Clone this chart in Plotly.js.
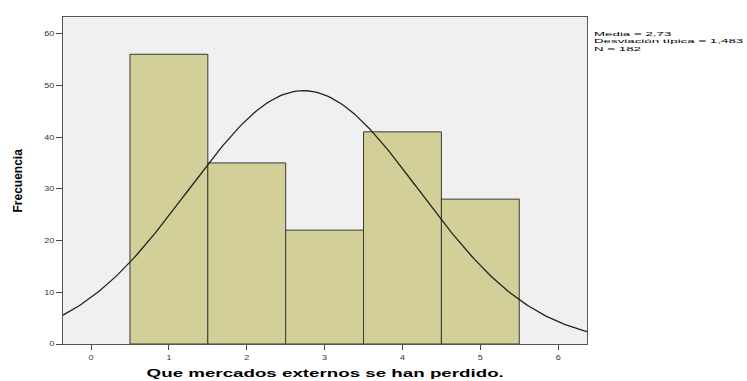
<!DOCTYPE html>
<html><head><meta charset="utf-8">
<script src="https://cdn.plot.ly/plotly-3.0.1.min.js"></script>
<style>body{margin:0;background:#fff}#c{width:747px;height:381px}</style>
</head><body><div id="c"></div>
<script>
const categories = [1, 2, 3, 4, 5];
const frequencies = [56, 35, 22, 41, 28];
const meanValue = 2.73;
const stdDev = 1.483;
const nCount = 182;
const xTicks = [0, 1, 2, 3, 4, 5, 6];
const yTicks = [0, 10, 20, 30, 40, 50, 60];
const statLines = ['Media = 2,73', 'Desviación típica = 1,483', 'N = 182'];

const xr = [-0.36, 6.37];
const cx = [], cy = [];
for (let i = 0; i <= 200; i++) {
  const x = xr[0] + (xr[1] - xr[0]) * i / 200;
  cx.push(x);
  cy.push(nCount / (stdDev * Math.sqrt(2 * Math.PI)) * Math.exp(-0.5 * Math.pow((x - meanValue) / stdDev, 2)));
}

const traces = [
  {type: 'bar', x: categories, y: frequencies, width: 1,
   marker: {color: '#d3cf98', line: {color: '#3a3a3a', width: 1}}, hoverinfo: 'none'},
  {type: 'scatter', mode: 'lines', x: cx, y: cy, line: {color: '#222', width: 1.3}, hoverinfo: 'none'}
];

const tickFont = {family: 'Liberation Sans, Arial, sans-serif', size: 9, color: '#333'};
const statFont = {family: 'Liberation Sans, Arial, sans-serif', size: 6, color: '#000'};
const statShifts = [-16.5, -24, -31.5];
const annotations = [
  {text: '<b>Que mercados externos se han perdido.</b>', xref: 'paper', yref: 'paper', x: 0.5, y: 0,
   xanchor: 'center', yanchor: 'middle', yshift: -29.5, showarrow: false,
   font: {family: 'Liberation Sans, Arial, sans-serif', size: 10, color: '#000'}},
  {text: '<b>Frecuencia</b>', xref: 'paper', yref: 'paper', x: 0, y: 0.5, xshift: -46,
   textangle: -90, xanchor: 'center', yanchor: 'middle', showarrow: false,
   font: {family: 'Liberation Sans Narrow, Arial Narrow, sans-serif', size: 12, color: '#000'}}
];
statLines.forEach((t, i) => annotations.push({
  text: t, xref: 'paper', yref: 'paper', x: 1, y: 1, xshift: 5, yshift: statShifts[i],
  xanchor: 'left', yanchor: 'middle', align: 'left', showarrow: false, font: statFont
}));

const layout = {
  width: 747, height: 381,
  margin: {l: 63, r: 160, t: 17, b: 37},
  paper_bgcolor: '#ffffff', plot_bgcolor: '#f0f0f0',
  showlegend: false,
  xaxis: {range: xr, tickvals: xTicks, ticktext: xTicks.map(String), ticks: 'outside', ticklen: 5,
    tickcolor: '#444', tickfont: tickFont, showgrid: false, zeroline: false,
    showline: true, linecolor: '#555', linewidth: 1, mirror: true},
  yaxis: {range: [0, 63.2], tickvals: yTicks, ticktext: yTicks.map(String), ticks: 'outside', ticklen: 6,
    tickcolor: '#444', tickfont: tickFont, showgrid: false, zeroline: false,
    showline: true, linecolor: '#555', linewidth: 1, mirror: true},
  annotations: annotations
};

function scaleText(el, sx, sy, mode) {
  if (!el) return;
  const b = el.getBBox();
  let ax = b.x + b.width / 2;
  if (mode === 'left') ax = b.x;
  if (mode === 'right') ax = b.x + b.width;
  const ay = b.y + b.height / 2;
  const ex = el.getAttribute('transform') || '';
  el.setAttribute('transform', ex + ` translate(${ax},${ay}) scale(${sx},${sy}) translate(${-ax},${-ay})`);
}

Plotly.newPlot('c', traces, layout, {displayModeBar: false, staticPlot: true}).then(() => {
  try {
    document.querySelectorAll('.xtick text, .ytick text').forEach(t => scaleText(t, 1, 0.78, 'center'));
    const anns = document.querySelectorAll('.annotation');
    const title = anns[0] && anns[0].querySelector('text');
    if (title) {
      const w = title.getBBox().width;
      scaleText(title, 358 / w, 1, 'center');
    }
    const stat2 = anns[3] && anns[3].querySelector('text');
    if (stat2) {
      const sx = 151 / stat2.getBBox().width;
      [2, 3, 4].forEach(i => anns[i] && scaleText(anns[i].querySelector('text'), sx, 1, 'left'));
    }
  } catch (e) {}
});
</script></body></html>
